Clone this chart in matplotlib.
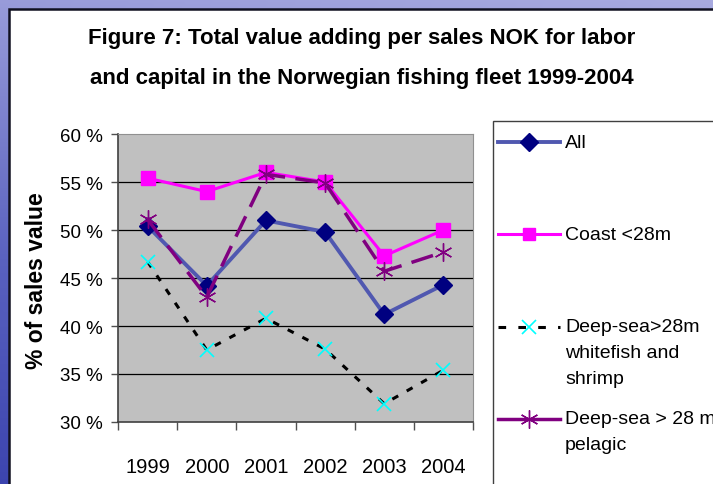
import numpy as np
import matplotlib.pyplot as plt
from matplotlib.patches import Rectangle
from matplotlib.lines import Line2D
from matplotlib.colors import LinearSegmentedColormap

# Datos del grafico
anios = ['1999', '2000', '2001', '2002', '2003', '2004']
todos = [50.4, 44.2, 51.0, 49.8, 41.2, 44.3]
costa = [55.4, 54.0, 56.0, 55.0, 47.3, 50.0]
blanco = [46.7, 37.5, 40.8, 37.6, 31.9, 35.4]
pelagico = [51.1, 43.0, 55.8, 54.9, 45.7, 47.7]
etiquetas = ['All', 'Coast <28m', 'Deep-sea>28m\nwhitefish and\nshrimp', 'Deep-sea > 28 m\npelagic']
yticks = [30, 35, 40, 45, 50, 55, 60]

W, H = 713, 485

def px(x, y):
	return (x / W, 1 - y / H)

plt.rcParams['font.family'] = ['Liberation Sans', 'DejaVu Sans']

fig = plt.figure(figsize=(W / 100, H / 100), dpi=100)

# Fondo azul con degradado
fondo = fig.add_axes([0, 0, 1, 1], zorder=-10)
azules = LinearSegmentedColormap.from_list('azules', ['#3038a8', '#5a62c0', '#a8aae0'])
gy = np.linspace(0, 1, 200)[:, None]
gx = np.linspace(0, 1, 200)[None, :]
grad = np.clip(0.15 + 0.75 * gy + 0.1 * gx, 0, 1)
fondo.imshow(grad, cmap=azules, vmin=0, vmax=1, aspect='auto', extent=[0, 1, 0, 1], origin='lower')
fondo.set_xlim(0, 1)
fondo.set_ylim(0, 1)
fondo.axis('off')
x0, y0 = px(9, 10)
fondo.add_patch(Rectangle((x0, -0.1), 1.2, y0 + 0.1, facecolor='white', edgecolor='#101020', lw=1.8, zorder=5))

# Titulo
fig.text(362 / W, 1 - 58.5 / H, 'Figure 7: Total value adding per sales NOK for labor\nand capital in the Norwegian fishing fleet 1999-2004',
	ha='center', va='center', fontsize=16, fontweight='bold', linespacing=2.15)

# Ejes
l, t = px(118, 135)
r, b = px(473, 423)
ax = fig.add_axes([l, b, r - l, t - b])
ax.set_facecolor('#c0c0c0')
x = np.arange(len(anios))

ax.plot(x, todos, color='#5058b0', lw=2.8, marker='D', ms=9.5, mfc='#000080', mec='#000080', zorder=3)
ax.plot(x, costa, color='#ff00ff', lw=2.2, marker='s', ms=9.5, mfc='#ff00ff', mec='#ff00ff', zorder=4)
ax.plot(x, blanco, color='black', lw=2.2, ls=(0, (2.2, 3.2)), marker='x', ms=10, mec='#00ffff', mew=1.2, zorder=5)
ax.plot(x, pelagico, color='#800080', lw=2.5, ls=(0, (6.5, 3)), marker=(6, 2, 0), ms=13, mec='#800080', mew=1, zorder=6)

ax.set_xlim(-0.5, len(anios) - 0.5)
ax.set_ylim(30, 60)
ax.set_yticks(yticks)
ax.set_yticklabels([str(v) + ' %' for v in yticks], fontsize=13.5)
ax.set_xticks(x)
ax.set_xticklabels(anios, fontsize=14.5)
ax.set_xticks(np.arange(-0.5, len(anios)), minor=True)
ax.tick_params(axis='x', which='major', length=0, pad=25)
ax.tick_params(axis='x', which='minor', length=6, width=1, color='#505050')
ax.tick_params(axis='y', length=5, width=1, color='#505050', pad=6)
for v in yticks[1:-1]:
	ax.axhline(v, color='black', lw=0.9, zorder=1)
for s in ['top', 'right']:
	ax.spines[s].set_color('#909090')
for s in ['left', 'bottom']:
	ax.spines[s].set_color('#404040')
	ax.spines[s].set_linewidth(1.2)

fig.text(37 / W, 1 - 281 / H, '% of sales value', rotation=90, ha='center', va='center',
	fontsize=16.5, fontweight='bold')

# Leyenda manual
lx, ly = px(493, 122)
fig.patches.append(Rectangle((lx, -0.1), 0.5, ly + 0.1, transform=fig.transFigure,
	facecolor='white', edgecolor='#404040', lw=1, zorder=1))

estilos = [
	dict(color='#5058b0', lw=2.8, marker='D', ms=9, mfc='#000080', mec='#000080'),
	dict(color='#ff00ff', lw=2.2, marker='s', ms=9, mfc='#ff00ff', mec='#ff00ff'),
	dict(color='black', lw=2.2, ls=(0, (2.5, 4)), marker='x', ms=10, mec='#00ffff', mew=1.2),
	dict(color='#800080', lw=2.5, marker=(6, 2, 0), ms=13, mec='#800080', mew=1),
]
filas = [143, 235, 328, 420]
for etiqueta, estilo, fy in zip(etiquetas, estilos, filas):
	x1, yy = px(498, fy)
	x2, _ = px(560, fy)
	xm, _ = px(529, fy)
	fig.add_artist(Line2D([x1, x2], [yy, yy], transform=fig.transFigure, color=estilo['color'],
		lw=estilo['lw'], ls=estilo.get('ls', '-'), zorder=3))
	fig.add_artist(Line2D([xm], [yy], transform=fig.transFigure, ls='none', marker=estilo['marker'],
		ms=estilo['ms'], mfc=estilo.get('mfc', 'none'), mec=estilo['mec'], mew=estilo.get('mew', 1), zorder=4))
	for i, linea in enumerate(etiqueta.split('\n')):
		tx, ty = px(565, fy + i * 26)
		fig.text(tx, ty, linea, ha='left', va='center', fontsize=14, zorder=5)

fig.savefig('out.png', dpi=100)
